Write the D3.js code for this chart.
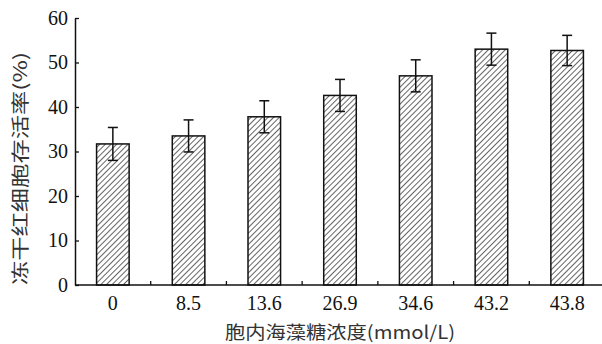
<!DOCTYPE html>
<html>
<head>
<meta charset="utf-8">
<script src="https://cdn.jsdelivr.net/npm/d3@7"></script>
<style>
  html, body { margin: 0; padding: 0; background: #fff; }
  svg { display: block; }
</style>
</head>
<body>
<svg id="chart"></svg>
<script>
// Trehalose concentration groups (mmol/L)
const categories = ['0', '8.5', '13.6', '26.9', '34.6', '43.2', '43.8'];
// Survival rate of freeze-dried red cells (%)
const means = [31.7, 33.5, 37.8, 42.6, 47.0, 53.0, 52.7];
// Error bar half-lengths
const errors = [3.7, 3.6, 3.6, 3.6, 3.6, 3.6, 3.4];
// Y axis tick values
const yTicks = [0, 10, 20, 30, 40, 50, 60];

const W = 602, H = 344;
const serif = 'Liberation Serif';
const cjk = 'Noto Sans CJK SC';

const svg = d3.select('#chart').attr('width', W).attr('height', H);

// Scales
const x = d3.scaleBand().domain(categories).range([75, 605]).padding(0);
const y = d3.scaleLinear().domain([0, 60]).range([285, 18]);
const barW = x.bandwidth() * 0.43;

// Hatch pattern
const defs = svg.append('defs');
const pat = defs.append('pattern')
    .attr('id', 'hatch')
    .attr('patternUnits', 'userSpaceOnUse')
    .attr('width', 4)
    .attr('height', 4)
    .attr('patternTransform', 'rotate(45)');
pat.append('rect').attr('width', 4).attr('height', 4).attr('fill', '#fff');
pat.append('line')
    .attr('x1', 0).attr('y1', 0).attr('x2', 0).attr('y2', 4)
    .attr('stroke', '#222').attr('stroke-width', 1.4);

const data = categories.map((c, i) => ({cat: c, mean: means[i], err: errors[i]}));

// Bars
svg.selectAll('.bar')
    .data(data)
    .enter()
    .append('rect')
    .attr('class', 'bar')
    .attr('x', d => x(d.cat) + (x.bandwidth() - barW) / 2)
    .attr('y', d => y(d.mean))
    .attr('width', barW)
    .attr('height', d => y(0) - y(d.mean))
    .attr('fill', 'url(#hatch)')
    .attr('stroke', '#111')
    .attr('stroke-width', 1.5);

// Error bars
const eb = svg.selectAll('.err')
    .data(data)
    .enter()
    .append('g')
    .attr('class', 'err')
    .attr('stroke', '#111')
    .attr('stroke-width', 1.5);
const cx = d => x(d.cat) + x.bandwidth() / 2;
eb.append('line')
    .attr('x1', cx).attr('x2', cx)
    .attr('y1', d => y(d.mean + d.err))
    .attr('y2', d => y(d.mean - d.err));
eb.append('line')
    .attr('x1', d => cx(d) - 5).attr('x2', d => cx(d) + 5)
    .attr('y1', d => y(d.mean + d.err))
    .attr('y2', d => y(d.mean + d.err));
eb.append('line')
    .attr('x1', d => cx(d) - 5).attr('x2', d => cx(d) + 5)
    .attr('y1', d => y(d.mean - d.err))
    .attr('y2', d => y(d.mean - d.err));

// Y axis (ticks pointing inward)
const yAxis = svg.append('g')
    .attr('transform', `translate(${x.range()[0]},0)`)
    .call(d3.axisLeft(y).tickValues(yTicks).tickSizeInner(-4).tickSizeOuter(0).tickPadding(7));
yAxis.attr('font-family', serif).attr('font-size', 20);
yAxis.select('.domain').attr('stroke', '#111').attr('stroke-width', 1.5);
yAxis.selectAll('.tick line').attr('stroke', '#111').attr('stroke-width', 1.3);
yAxis.selectAll('.tick text').attr('fill', '#111');

// X axis line
svg.append('line')
    .attr('x1', x.range()[0]).attr('x2', W)
    .attr('y1', y(0)).attr('y2', y(0))
    .attr('stroke', '#111').attr('stroke-width', 1.5);

// Small inward ticks at band boundaries
svg.selectAll('.xtick')
    .data(categories.slice(1))
    .enter()
    .append('line')
    .attr('x1', d => x(d)).attr('x2', d => x(d))
    .attr('y1', y(0)).attr('y2', y(0) - 4)
    .attr('stroke', '#111').attr('stroke-width', 1.3);

// X tick labels
svg.selectAll('.xlabel')
    .data(categories)
    .enter()
    .append('text')
    .attr('x', d => x(d) + x.bandwidth() / 2)
    .attr('y', 310)
    .attr('text-anchor', 'middle')
    .attr('font-family', serif)
    .attr('font-size', 20)
    .attr('fill', '#111')
    .text(d => d);

// Axis titles
svg.append('text')
    .attr('x', 225)
    .attr('y', 339)
    .attr('font-family', cjk)
    .attr('font-size', 18)
    .attr('fill', '#333')
    .attr('textLength', 230)
    .attr('lengthAdjust', 'spacingAndGlyphs')
    .text('胞内海藻糖浓度(mmol/L)');

svg.append('text')
    .attr('transform', 'translate(27,285) rotate(-90)')
    .attr('font-family', cjk)
    .attr('font-size', 18)
    .attr('fill', '#333')
    .attr('textLength', 233)
    .attr('lengthAdjust', 'spacingAndGlyphs')
    .text('冻干红细胞存活率(%)');
</script>
</body>
</html>
